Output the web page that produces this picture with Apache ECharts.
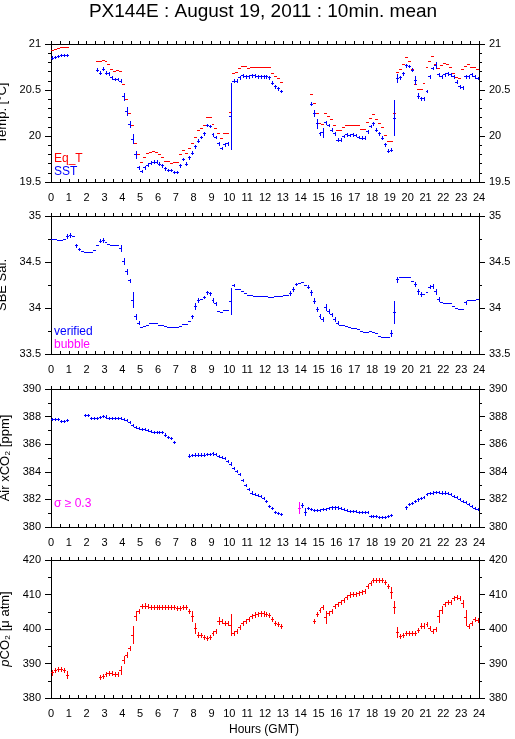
<!DOCTYPE html>
<html>
<head>
<meta charset="utf-8">
<script src="https://cdn.jsdelivr.net/npm/echarts@6/dist/echarts.min.js"></script>
<style>
  html, body { margin: 0; padding: 0; background: #fff; }
  #chart { width: 515px; height: 739px; }
</style>
</head>
<body>
<div id="chart"></div>
<script>
const _ = null;

// 10-min means, one row = one hour (6 values), hours 0..23
const eqT = [
  20.94, 20.95, 20.96, 20.97, 20.97, 20.97,
  _, _, _, _, _, _,
  _, _, _, 20.82, 20.81, 20.83,
  20.81, 20.78, 20.73, 20.71, 20.72, 20.71,
  20.56, 20.40, 20.25, 20.12, 19.92, 19.80,
  19.72, 19.77, 19.82, 19.83, 19.84, 19.83,
  19.80, 19.77, 19.73, 19.73, 19.71, 19.72,
  19.72, 19.80, 19.85, 19.82, 19.87, 19.92,
  19.99, 20.06, 20.09, 20.12, 20.21, 20.21,
  20.13, 20.09, 20.03, 19.98, 20.03, 20.03,
  20.26, 20.68, 20.70, 20.74, 20.76, 20.76,
  20.74, 20.75, 20.75, 20.75, 20.75, 20.75,
  20.75, 20.75, 20.69, 20.65, 20.63, 20.59,
  _, _, _, _, _, _,
  _, _, _, 20.46, 20.36, 20.25,
  20.14, 20.13, 20.25, 20.22, 20.19, 20.12,
  20.07, 20.07, 20.10, 20.12, 20.12, 20.12,
  20.12, 20.12, 20.08, 20.08, 20.15, 20.20,
  20.24, 20.19, 20.14, 20.10, 20.01, 19.95,
  19.95, 20.25, 20.70, 20.73, 20.78, 20.86,
  20.82, 20.73, 20.56, 20.51, 20.51, 20.58,
  20.75, 20.82, 20.87, 20.78, 20.74, 20.77,
  20.79, 20.78, 20.75, 20.69, 20.64, 20.63,
  20.73, 20.76, 20.78, 20.75, 20.75, 20.73
];

const sst = [
  20.85, 20.86, 20.87, 20.88, 20.88, 20.88,
  _, _, _, _, _, _,
  _, _, _, 20.72, 20.69, 20.73,
  20.69, 20.68, 20.64, 20.62, 20.62, 20.60,
  20.43, 20.27, 20.13, 19.97, 19.80, 19.66,
  19.62, 19.66, 19.69, 19.71, 19.72, 19.72,
  19.70, 19.68, 19.65, 19.63, 19.63, 19.61,
  19.61, 19.68, 19.75, 19.70, 19.77, 19.82,
  19.89, 19.95, 19.99, 20.03, 20.12, 20.11,
  20.02, 19.99, 19.92, 19.87, 19.91, 19.92,
  20.22, 20.60, 20.60, 20.64, 20.66, 20.65,
  20.65, 20.66, 20.66, 20.65, 20.65, 20.65,
  20.65, 20.64, 20.58, 20.54, 20.52, 20.49,
  _, _, _, _, _, _,
  _, _, _, 20.35, 20.25, 20.14,
  20.03, 20.04, 20.15, 20.12, 20.07, 20.03,
  19.96, 19.96, 20.00, 20.02, 20.01, 20.02,
  20.01, 19.99, 19.98, 19.98, 20.05, 20.11,
  20.14, 20.07, 20.03, 19.98, 19.91, 19.84,
  19.85, 20.20, 20.63, 20.64, 20.68, 20.77,
  20.76, 20.72, 20.61, 20.44, 20.41, 20.41,
  20.49, 20.65, 20.74, 20.77, 20.67, 20.65,
  20.67, 20.68, 20.67, 20.65, 20.59, 20.54,
  20.53, 20.65, 20.65, 20.67, 20.65, 20.63
];
// [index, sigma] where the error bar is clearly longer than usual
const sstSigma = [[24, 0.04], [25, 0.04], [26, 0.03], [27, 0.05], [28, 0.04], [60, 0.36],
  [88, 0.03], [89, 0.05], [91, 0.05], [115, 0.19], [116, 0.04], [122, 0.04], [123, 0.03], [129, 0.03]];

const sal = [
  34.75, 34.75, 34.74, 34.74, 34.75, 34.78,
  34.79, 34.78, 34.68, 34.64, 34.62, 34.61,
  34.61, 34.61, 34.63, 34.68, 34.73, 34.74,
  34.72, 34.70, 34.68, 34.68, 34.68, 34.65,
  34.51, 34.40, 34.30, 34.09, 33.91, 33.84,
  33.79, 33.80, 33.82, 33.84, 33.84, 33.84,
  33.82, 33.81, 33.80, 33.79, 33.79, 33.79,
  33.79, 33.80, 33.83, 33.83, 33.86, 33.91,
  34.02, 34.09, 34.10, 34.12, 34.17, 34.16,
  34.09, 34.05, 33.97, 33.96, 33.98, 33.98,
  34.08, 34.25, 34.21, 34.21, 34.18, 34.16,
  34.14, 34.14, 34.13, 34.13, 34.13, 34.13,
  34.13, 34.12, 34.12, 34.13, 34.13, 34.13,
  34.14, 34.14, 34.16, 34.21, 34.26, 34.27,
  34.28, 34.25, 34.23, 34.17, 34.08, 33.99,
  33.91, 33.88, 34.01, 33.97, 33.93, 33.88,
  33.84, 33.82, 33.82, 33.80, 33.79, 33.78,
  33.78, 33.77, 33.75, 33.74, 33.74, 33.75,
  33.74, 33.73, 33.70, 33.69, 33.68, 33.68,
  33.73, 33.96, 34.31, 34.34, 34.34, 34.34,
  34.34, 34.29, 34.26, 34.18, 34.15, 34.15,
  34.17, 34.23, 34.24, 34.18, 34.10, 34.06,
  34.05, 34.05, 34.05, 34.02, 34.00, 33.99,
  33.99, 34.06, 34.09, 34.09, 34.09, 34.10
];
const salSigma = [[5, 0.02], [6, 0.02], [8, 0.02], [9, 0.01], [16, 0.015], [17, 0.02],
  [23, 0.03], [24, 0.03], [25, 0.025], [26, 0.02], [27, 0.08], [28, 0.03], [29, 0.015],
  [47, 0.015], [48, 0.03], [49, 0.02], [51, 0.015], [52, 0.02], [53, 0.015], [54, 0.02], [55, 0.02],
  [60, 0.14], [61, 0.015], [80, 0.02], [81, 0.02], [82, 0.015], [86, 0.015], [87, 0.025],
  [88, 0.03], [89, 0.02], [90, 0.02], [91, 0.02], [92, 0.03], [93, 0.02], [94, 0.02], [95, 0.02],
  [96, 0.015], [114, 0.03], [115, 0.12], [116, 0.03], [122, 0.02], [123, 0.025], [124, 0.02],
  [127, 0.015], [128, 0.02], [129, 0.03], [130, 0.02], [139, 0.02]];

const xco2 = [
  387.85, 387.85, 387.82, 387.70, 387.70, 387.75,
  _, _, _, _, _, 388.10,
  388.10, 387.90, 387.88, 387.88, 387.95, 388.05,
  388.00, 387.88, 387.90, 387.90, 387.88, 387.88,
  387.82, 387.75, 387.63, 387.40, 387.27, 387.15,
  387.10, 387.10, 387.03, 386.95, 386.90, 386.90,
  386.90, 386.86, 386.70, 386.55, 386.43, 386.18,
  _, _, _, _, 385.18, 385.22,
  385.25, 385.25, 385.25, 385.25, 385.28, 385.30,
  385.33, 385.27, 385.17, 385.10, 384.98, 384.78,
  384.60, 384.30, 384.08, 383.84, 383.40, 383.04,
  382.73, 382.50, 382.37, 382.30, 382.25, 382.13,
  381.88, 381.55, 381.35, 381.10, 381.00, 380.92,
  _, _, _, _, _, 381.40,
  381.60, 381.10, 381.40, 381.30, 381.23, 381.23,
  381.23, 381.28, 381.30, 381.35, 381.42, 381.42,
  381.42, 381.40, 381.30, 381.23, 381.15, 381.15,
  381.15, 381.10, 381.10, 381.10, 381.10, 380.82,
  380.80, 380.80, 380.75, 380.75, 380.75, 380.82,
  380.85, _, _, _, _, 381.42,
  381.64, 381.76, 381.88, 382.00, 382.08, 382.20,
  382.37, 382.44, 382.50, 382.55, 382.55, 382.50,
  382.50, 382.44, 382.37, 382.27, 382.15, 382.03,
  381.88, 381.79, 381.67, 381.52, 381.40, 381.30
];
const xco2Sigma = [[83, 0.42], [84, 0.12], [85, 0.25]];

const pco2 = [
  387.4, 388.0, 388.5, 388.3, 388.2, 386.8,
  _, _, _, _, _, _,
  _, _, _, _, 386.1, 386.3,
  387.0, 387.25, 387.25, 387.0, 387.0, 388.2,
  391.1, 392.6, 394.5, 398.4, 403.9, 405.3,
  406.6, 406.8, 406.6, 406.4, 406.4, 406.4,
  406.4, 406.3, 406.5, 406.4, 406.5, 406.4,
  406.2, 406.1, 406.5, 406.5, 405.3, 403.7,
  400.2, 398.4, 398.2, 397.7, 397.4, 397.7,
  398.8, 399.5, 402.4, 402.4, 401.7, 401.7,
  401.3, 398.8, 399.5, 400.5, 401.7, 402.4,
  403.0, 403.7, 404.2, 404.4, 404.5, 404.5,
  404.3, 404.0, 402.9, 401.7, 401.4, 400.8,
  _, _, _, _, _, _,
  _, _, _, _, 402.4, 404.4,
  405.6, 406.3, 403.4, 404.6, 405.3, 406.6,
  407.2, 407.8, 408.5, 409.3, 410.0, 410.1,
  410.2, 410.4, 410.7, 411.1, 412.4, 413.3,
  414.3, 414.3, 414.3, 414.3, 413.6, 412.4,
  410.6, 406.3, 399.1, 397.9, 398.2, 398.8,
  398.8, 398.8, 398.8, 399.8, 401.0, 401.0,
  401.4, 400.3, 399.5, 400.0, 403.7, 405.6,
  407.2, 407.8, 407.8, 409.0, 409.2, 409.0,
  407.5, 403.4, 400.8, 401.7, 403.0, 402.7
];
const pco2Sigma = [[5, 1.0], [23, 1.2], [24, 1.0], [27, 2.5], [28, 1.2], [47, 1.5], [48, 1.5],
  [56, 1.0], [60, 3.0], [92, 1.8], [114, 1.5], [115, 1.8], [116, 1.4], [130, 1.8], [131, 1.0],
  [138, 1.0], [139, 2.2]];

const title = 'PX144E : August 19, 2011 : 10min. mean';
const hourTicks = { min: 0, max: 24, interval: 1 };
const panels = [
  { name: 'Temp. [°C]', min: 19.5, max: 21, interval: 0.5, minor: 5 },
  { name: 'SBE Sal.', min: 33.5, max: 35, interval: 0.5, minor: 2 },
  { name: 'Air xCO₂ [ppm]', min: 380, max: 390, interval: 2, minor: 2 },
  { name: '{i|p}CO₂ [μ atm]', min: 380, max: 420, interval: 10, minor: 2 }
];

const FONT = '"Liberation Sans", Arial, Helvetica, sans-serif';
const STEP = 1 / 6;
const gridTops = [44, 216, 389, 560];

function toPoints(values, sigmaDefault, sigmaList) {
  const sig = {};
  (sigmaList || []).forEach(([i, s]) => { sig[i] = s; });
  const out = [];
  values.forEach((v, i) => {
    if (v === null) return;
    out.push([i * STEP + STEP / 2, v, sig[i] !== undefined ? sig[i] : sigmaDefault]);
  });
  return out;
}

function crossSeries(name, g, points, colorOf) {
  return {
    name,
    type: 'custom',
    xAxisIndex: g * 2,
    yAxisIndex: g * 2,
    clip: true,
    data: points,
    encode: { x: 0, y: 1 },
    renderItem(params, api) {
      const t = api.value(0), v = api.value(1), s = api.value(2);
      const c = colorOf(s);
      const a = api.coord([t - STEP / 2, v]);
      const b = api.coord([t + STEP / 2, v]);
      const y = Math.round(a[1]) + 0.5;
      const kids = [{
        type: 'line',
        shape: { x1: Math.round(a[0]), y1: y, x2: Math.round(b[0]), y2: y },
        style: { stroke: c, lineWidth: 1 }
      }];
      if (s > 0) {
        const top = api.coord([t, v + s]);
        const bot = api.coord([t, v - s]);
        if (bot[1] - top[1] >= 1.5) {
          const x = Math.round((a[0] + b[0]) / 2) + 0.5;
          kids.push({
            type: 'line',
            shape: { x1: x, y1: Math.round(top[1]), x2: x, y2: Math.round(bot[1]) + 1 },
            style: { stroke: c, lineWidth: 1 }
          });
        }
      }
      return { type: 'group', children: kids };
    }
  };
}

const black = { color: '#000', width: 1 };
const grids = [], xAxes = [], yAxes = [];
panels.forEach((p, g) => {
  grids.push({ left: 51, width: 428, top: gridTops[g], height: 138, containLabel: false, outerBoundsMode: 'none' });
  // bottom hours axis with labels, top copy without
  xAxes.push({
    gridIndex: g, type: 'value', position: 'bottom', ...hourTicks,
    axisLine: { onZero: false, lineStyle: black },
    axisTick: { inside: true, length: 3, lineStyle: black },
    minorTick: { show: true, splitNumber: 2, length: 3, lineStyle: black },
    axisLabel: { margin: 10, fontSize: 11, color: '#000', fontFamily: FONT, hideOverlap: false },
    splitLine: { show: false }, minorSplitLine: { show: false }
  });
  xAxes.push({
    gridIndex: g, type: 'value', position: 'top', ...hourTicks,
    axisLine: { onZero: false, lineStyle: black },
    axisTick: { inside: false, length: 3, lineStyle: black },
    minorTick: { show: true, splitNumber: 2, length: 3, lineStyle: black },
    axisLabel: { show: false },
    splitLine: { show: false }
  });
  [ 'left', 'right' ].forEach((side) => {
    yAxes.push({
      gridIndex: g, type: 'value', position: side,
      min: p.min, max: p.max, interval: p.interval,
      name: side === 'left' ? p.name : '',
      nameLocation: 'middle', nameRotate: 90, nameGap: 36,
      nameTextStyle: { fontSize: 13, color: '#000', fontFamily: FONT,
        rich: { i: { fontSize: 13, fontStyle: 'italic', fontFamily: FONT, color: '#000' } } },
      axisLine: { onZero: false, lineStyle: black },
      axisTick: { inside: false, length: 6, lineStyle: black },
      minorTick: { show: true, splitNumber: p.minor, length: 3, lineStyle: black },
      axisLabel: { margin: 10, fontSize: 11, color: '#000', fontFamily: FONT, showMinLabel: true, showMaxLabel: true },
      splitLine: { show: false }
    });
  });
});

const red = () => '#ff0000';
const blue = () => '#0000ff';
const series = [
  crossSeries('Eq_T', 0, toPoints(eqT, 0), red),
  crossSeries('SST', 0, toPoints(sst, 0.015, sstSigma), blue),
  crossSeries('Sal', 1, toPoints(sal, 0.004, salSigma), blue),
  crossSeries('xCO2', 2, toPoints(xco2, 0.08, xco2Sigma), (s) => (s >= 0.3 ? '#ff00ff' : '#0000ff')),
  crossSeries('pCO2', 3, toPoints(pco2, 0.6, pco2Sigma), red)
];

function label(text, x, y, color, size, align) {
  return {
    type: 'text', x, y, silent: true,
    style: { text, fill: color, font: size + 'px ' + FONT, align: align || 'left', verticalAlign: 'middle' }
  };
}

const chart = echarts.init(document.getElementById('chart'), null, { renderer: 'canvas' });
chart.setOption({
  animation: false,
  backgroundColor: '#fff',
  grid: grids,
  xAxis: xAxes,
  yAxis: yAxes,
  series,
  graphic: [
    label(title, 263, 12, '#000', 19, 'center'),
    label('Eq_T', 54, 159, '#ff0000', 12),
    label('SST', 54, 172, '#0000ff', 12),
    label('verified', 54, 332, '#0000ff', 12),
    label('bubble', 54, 345, '#ff00ff', 12),
    label('σ ≥ 0.3', 54, 504, '#ff00ff', 12),
    label('Hours (GMT)', 264, 730, '#000', 12, 'center')
  ]
});
</script>
</body>
</html>
